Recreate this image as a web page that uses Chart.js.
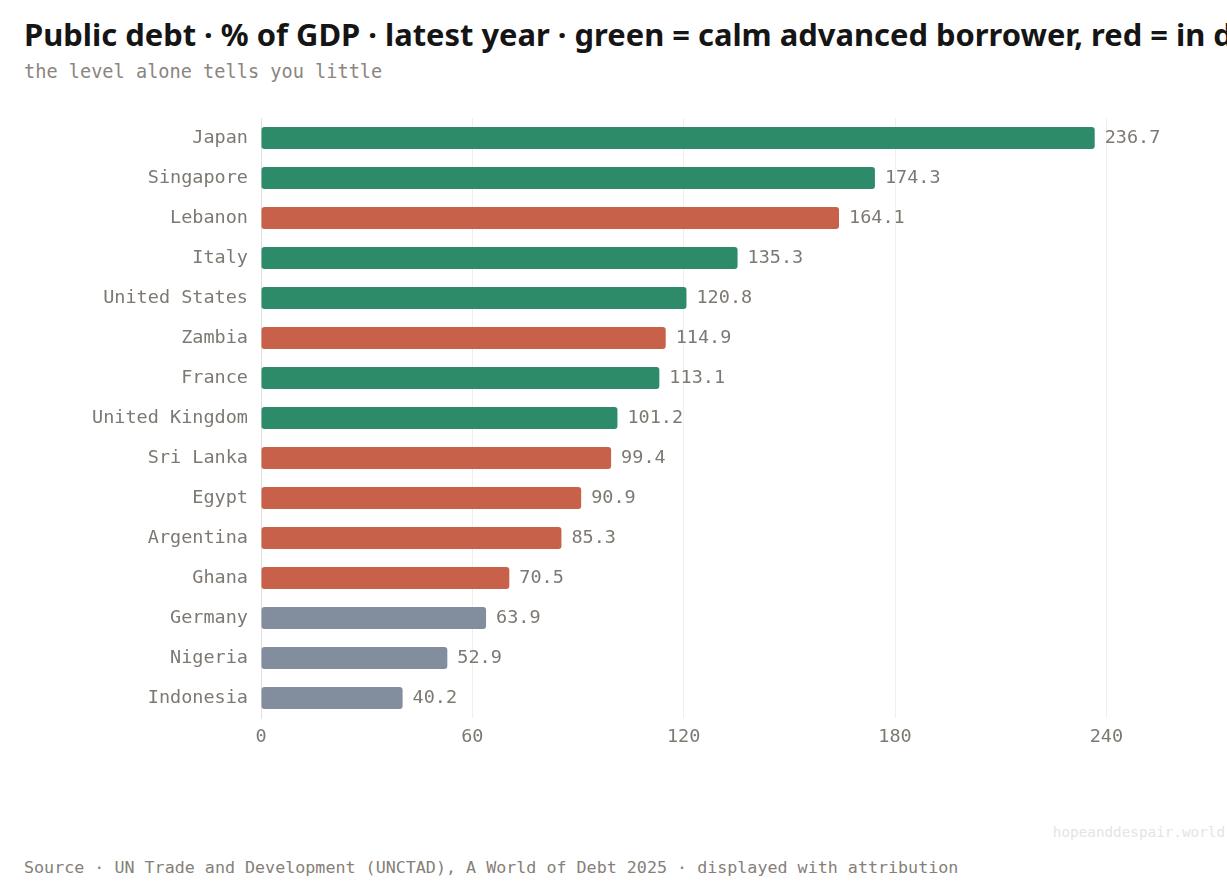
<!DOCTYPE html>
<html>
<head>
<meta charset="utf-8">
<script src="https://cdn.jsdelivr.net/npm/chart.js@4/dist/chart.umd.min.js"></script>
<style>
  html, body { margin: 0; padding: 0; background: #fff; }
  body { width: 1227px; height: 891px; position: relative; overflow: hidden; }
  #titre { position: absolute; left: 24px; top: 13px; white-space: nowrap;
    font: bold 30.9px "Noto Sans", sans-serif; color: #151515; }
  #soustitre { position: absolute; left: 24px; top: 61px; white-space: nowrap;
    font: 18.6px "DejaVu Sans Mono", monospace; color: #8a8580; }
  #cadre { position: absolute; left: 0; top: 94px; width: 1227px; height: 667px; }
  #marque { position: absolute; right: 2px; top: 824px;
    font: 14.3px "DejaVu Sans Mono", monospace; color: #e6e4e1; }
  #source { position: absolute; left: 24px; top: 857px; white-space: nowrap;
    font: 16.7px "DejaVu Sans Mono", monospace; color: #858079; }
</style>
</head>
<body>
<div id="titre">Public debt · % of GDP · latest year · green = calm advanced borrower, red = in distress</div>
<div id="soustitre">the level alone tells you little</div>
<div id="cadre"><canvas id="grafic"></canvas></div>
<div id="marque">hopeanddespair.world</div>
<div id="source">Source · UN Trade and Development (UNCTAD), A World of Debt 2025 · displayed with attribution</div>
<script>
const tari = ['Japan', 'Singapore', 'Lebanon', 'Italy', 'United States', 'Zambia', 'France',
  'United Kingdom', 'Sri Lanka', 'Egypt', 'Argentina', 'Ghana', 'Germany', 'Nigeria', 'Indonesia'];
const datorie = [236.7, 174.3, 164.1, 135.3, 120.8, 114.9, 113.1, 101.2, 99.4, 90.9, 85.3, 70.5, 63.9, 52.9, 40.2];
// calm = avansat linistit, criza = in dificultate, altul = restul
const grup = ['calm', 'calm', 'criza', 'calm', 'calm', 'criza', 'calm',
  'calm', 'criza', 'criza', 'criza', 'criza', 'altul', 'altul', 'altul'];
const tickuriX = [0, 60, 120, 180, 240];

const culori = { calm: '#2e8b69', criza: '#c8614a', altul: '#828e9e' };
const fontMono = '"DejaVu Sans Mono", monospace';

const eticheteValori = {
  id: 'eticheteValori',
  afterDatasetsDraw(chart) {
    const ctx = chart.ctx;
    const meta = chart.getDatasetMeta(0);
    ctx.save();
    ctx.font = '18.5px ' + fontMono;
    ctx.fillStyle = '#7d7872';
    ctx.textAlign = 'left';
    ctx.textBaseline = 'middle';
    meta.data.forEach((bara, i) => {
      ctx.fillText(datorie[i].toFixed(1), bara.x + 10, bara.y);
    });
    ctx.restore();
  }
};

new Chart(document.getElementById('grafic'), {
  type: 'bar',
  data: {
    labels: tari,
    datasets: [{
      data: datorie,
      backgroundColor: grup.map(g => culori[g]),
      borderWidth: 0,
      borderRadius: 3,
      borderSkipped: false,
      categoryPercentage: 1,
      barPercentage: 0.55
    }]
  },
  options: {
    indexAxis: 'y',
    responsive: true,
    maintainAspectRatio: false,
    animation: false,
    layout: { padding: { top: 0, right: 15, bottom: 0, left: 0 } },
    plugins: { legend: { display: false }, tooltip: { enabled: false } },
    scales: {
      x: {
        min: 0,
        max: 270,
        afterBuildTicks: axa => { axa.ticks = tickuriX.map(v => ({ value: v })); },
        afterFit: axa => { axa.height = 43; },
        grid: { color: '#f0efed', lineWidth: 1, drawTicks: false },
        border: { display: false },
        ticks: { font: { family: fontMono, size: 18.5 }, color: '#7d7872', padding: 8 }
      },
      y: {
        afterFit: axa => { axa.width = 261; },
        grid: { display: false, drawTicks: false },
        border: { display: true, color: '#e2e0dd', width: 1 },
        ticks: { font: { family: fontMono, size: 18.5 }, color: '#7d7872', padding: 13 }
      }
    }
  },
  plugins: [eticheteValori]
});
</script>
</body>
</html>
